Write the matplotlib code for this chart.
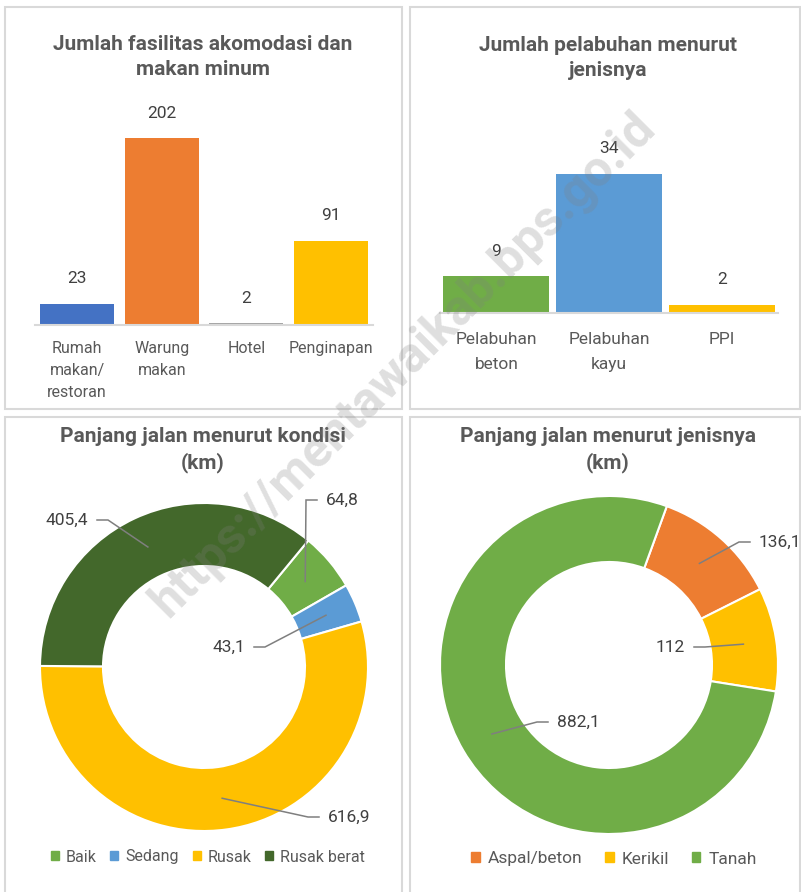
import numpy as np
import matplotlib.pyplot as plt
from matplotlib.patches import Rectangle, Patch

plt.rcParams['font.family'] = ['Roboto', 'DejaVu Sans']

# data
akomodasi_cat = ['Rumah\nmakan/\nrestoran', 'Warung\nmakan', 'Hotel', 'Penginapan']
akomodasi_val = [23, 202, 2, 91]
akomodasi_col = ['#4472C4', '#ED7D31', '#A5A5A5', '#FFC000']

pelabuhan_cat = ['Pelabuhan\nbeton', 'Pelabuhan\nkayu', 'PPI']
pelabuhan_val = [9, 34, 2]
pelabuhan_col = ['#70AD47', '#5B9BD5', '#FFC000']

kondisi_cat = ['Baik', 'Sedang', 'Rusak', 'Rusak berat']
kondisi_val = [64.8, 43.1, 616.9, 405.4]
kondisi_col = ['#70AD47', '#5B9BD5', '#FFC000', '#43682B']

jenis_cat = ['Aspal/beton', 'Kerikil', 'Tanah']
jenis_val = [136.1, 112, 882.1]
jenis_col = ['#ED7D31', '#FFC000', '#70AD47']

W, H = 801, 892
fig = plt.figure(figsize=(W / 100, H / 100), dpi=100)

TITLE_C = '#595959'
VAL_C = '#404040'
GRID_C = '#D9D9D9'


def box(x0, y0, x1, y1):
    # pixel box (top-left origin) -> figure fraction rect
    return [x0 / W, 1 - y1 / H, (x1 - x0) / W, (y1 - y0) / H]


def fxy(x, y):
    return x / W, 1 - y / H


def fmt(v):
    return f'{v:g}'.replace('.', ',')


# panel frames
for x0, y0, x1, y1 in [(5, 7, 402, 409), (410, 7, 800, 409),
                       (5, 417, 402, 900), (410, 417, 800, 900)]:
    fig.patches.append(Rectangle(fxy(x0, y1), (x1 - x0) / W, (y1 - y0) / H,
                                 transform=fig.transFigure, fill=False,
                                 ec=GRID_C, lw=1.5))

# titles
for x, y, t in [(203, 57, 'Jumlah fasilitas akomodasi dan\nmakan minum'),
                (608, 58, 'Jumlah pelabuhan menurut\njenisnya'),
                (203, 450, 'Panjang jalan menurut kondisi\n(km)'),
                (608, 450, 'Panjang jalan menurut jenisnya\n(km)')]:
    fig.text(*fxy(x, y), t, ha='center', va='center', fontsize=15,
             fontweight='bold', color=TITLE_C, linespacing=1.45)


def bars(rect, cats, vals, cols, width, ymax, fs, ls, pad):
    ax = fig.add_axes(box(*rect))
    x = np.arange(len(vals))
    ax.bar(x, vals, width=width, color=cols)
    ax.set_xlim(-0.5, len(vals) - 0.5)
    ax.set_ylim(0, ymax)
    for xi, v in zip(x, vals):
        ax.annotate(fmt(v), (xi, v), xytext=(0, 18), textcoords='offset points',
                    ha='center', va='center', fontsize=12.5, color=VAL_C)
    ax.set_xticks(x)
    ax.set_xticklabels(cats, fontsize=fs, color=TITLE_C, linespacing=ls)
    ax.tick_params(axis='x', length=0, pad=pad)
    ax.set_yticks([])
    for s in ['top', 'left', 'right']:
        ax.spines[s].set_visible(False)
    ax.spines['bottom'].set_color(GRID_C)
    ax.spines['bottom'].set_linewidth(1.5)
    ax.patch.set_alpha(0)
    return ax


bars((35, 95, 373, 325), akomodasi_cat, akomodasi_val, akomodasi_col,
     0.88, 230 / (187 / 202), 11.5, 1.58, 11.5)
bars((440, 95, 778, 313), pelabuhan_cat, pelabuhan_val, pelabuhan_col,
     0.94, 218 / (139 / 34), 12.5, 1.8, 14)


def donut(cx, cy, R, r_in, vals, cols, cats, start, elbows, leg_xy, leg_fs, colsp):
    ax = fig.add_axes(box(cx - R, cy - R, cx + R, cy + R))
    wedges, _ = ax.pie(vals, colors=cols, radius=R, startangle=start,
                       counterclock=False,
                       wedgeprops=dict(width=R - r_in, edgecolor='white', linewidth=1.5))
    ax.set_xlim(-R, R)
    ax.set_ylim(-R, R)
    ax.set_aspect('equal')
    ax.axis('off')
    rm = (R + r_in) / 2
    for w, v, (ex, ey, side) in zip(wedges, vals, elbows):
        a = np.deg2rad((w.theta1 + w.theta2) / 2)
        sx, sy = rm * np.cos(a), rm * np.sin(a)
        ey = -ey
        hx = ex + side * 11
        ax.plot([sx, ex, hx], [sy, ey, ey], color='#7F7F7F', lw=1.1,
                clip_on=False, solid_joinstyle='miter')
        ax.text(hx + side * 9, ey, fmt(v), ha='left' if side > 0 else 'right',
                va='center', fontsize=12.5, color=VAL_C, clip_on=False)
    handles = [Patch(color=c) for c in cols]
    ax.legend(handles, cats, loc='center', bbox_to_anchor=fxy(*leg_xy),
              bbox_transform=fig.transFigure, ncol=len(cats), frameon=False,
              fontsize=leg_fs, labelcolor=TITLE_C, handlelength=0.5,
              handleheight=0.5, handletextpad=0.45, columnspacing=colsp)


donut(204, 667, 164, 101, kondisi_val, kondisi_col, kondisi_cat, 50.5,
      [(102, -167, 1), (61, -20, -1), (104, 150, 1), (-96, -147, -1)],
      (208, 857), 11.5, 0.85)
donut(609, 665, 169, 103, jenis_val, jenis_col, jenis_cat, 70,
      [(130, -123, 1), (96, -18, -1), (-72, 57, 1)],
      (614, 859), 12.5, 1.3)

# watermark
fig.text(*fxy(403, 365), 'https://mentawaikab.bps.go.id', rotation=45,
         ha='center', va='center', fontsize=36, fontweight='bold',
         color='#808080', alpha=0.25, zorder=10)

fig.savefig('out.png', dpi=100)
